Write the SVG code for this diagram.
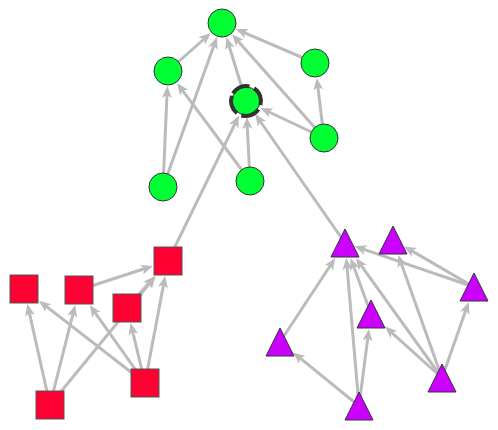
<svg xmlns="http://www.w3.org/2000/svg" width="498" height="430" viewBox="0 0 498 430">
<style>
.e{stroke:#bbbbbb;stroke-width:3;fill:none;marker-end:url(#ah)}
.g{fill:#00ff33;stroke:#333333;stroke-width:1}
.r{fill:#ff0033;stroke:#555555;stroke-width:1}
.p{fill:#cc00ff;stroke:#333333;stroke-width:1}
</style>
<defs>
<marker id="ah" markerUnits="userSpaceOnUse" markerWidth="14" markerHeight="12" refX="6" refY="5" orient="auto" viewBox="0 0 14 12">
<path d="M0,0 L12,5 L0,10 L3,5 Z" fill="#bbbbbb"/>
</marker>
</defs>
<rect width="498" height="430" fill="#ffffff"/>
<g id="connectors">
<line class="e" x1="168" y1="71" x2="206.3" y2="37"/>
<line class="e" x1="163" y1="187" x2="214.9" y2="42.7"/>
<line class="e" x1="163" y1="187" x2="167.1" y2="92"/>
<line class="e" x1="250" y1="181" x2="180.6" y2="87.8"/>
<line class="e" x1="246" y1="101" x2="228.2" y2="43"/>
<line class="e" x1="324" y1="138" x2="236" y2="38.7"/>
<line class="e" x1="315" y1="63" x2="241.3" y2="31.3"/>
<line class="e" x1="324" y1="138" x2="317.5" y2="83.9"/>
<line class="e" x1="324" y1="138" x2="265.9" y2="110.5"/>
<line class="e" x1="250" y1="181" x2="247.1" y2="123"/>
<line class="e" x1="168" y1="261" x2="236.4" y2="120.8"/>
<line class="e" x1="345" y1="243" x2="258.6" y2="119"/>
<line class="e" x1="50" y1="405" x2="28.7" y2="309.9"/>
<line class="e" x1="50" y1="405" x2="73.7" y2="310.8"/>
<line class="e" x1="50" y1="405" x2="151.9" y2="280.6"/>
<line class="e" x1="127" y1="308" x2="151" y2="280.5"/>
<line class="e" x1="79" y1="290" x2="147.3" y2="267.8"/>
<line class="e" x1="145" y1="383" x2="43.7" y2="304.4"/>
<line class="e" x1="145" y1="383" x2="93.1" y2="309.9"/>
<line class="e" x1="145" y1="383" x2="132" y2="328.8"/>
<line class="e" x1="145" y1="383" x2="164.1" y2="281.9"/>
<line class="e" x1="474" y1="287" x2="360.2" y2="248.1"/>
<line class="e" x1="474" y1="287" x2="409.2" y2="249.4"/>
<line class="e" x1="280" y1="342" x2="332" y2="263"/>
<line class="e" x1="359" y1="406" x2="297.7" y2="356.2"/>
<line class="e" x1="359" y1="406" x2="346.8" y2="264"/>
<line class="e" x1="359" y1="406" x2="368.2" y2="334.9"/>
<line class="e" x1="371" y1="314" x2="352.6" y2="263.6"/>
<line class="e" x1="442" y1="378" x2="359.3" y2="262.9"/>
<line class="e" x1="442" y1="378" x2="389.5" y2="330.6"/>
<line class="e" x1="442" y1="378" x2="400.3" y2="260.7"/>
<line class="e" x1="442" y1="378" x2="466.7" y2="307.7"/>
</g>
<g id="nA"><circle class="g" cx="222" cy="23" r="14"/></g>
<g id="nB"><circle class="g" cx="168" cy="71" r="14"/></g>
<g id="nC"><circle class="g" cx="315" cy="63" r="14"/></g>
<g id="nD"><circle class="g" cx="246" cy="101" r="14" stroke="none"/><circle cx="246" cy="101" r="15" fill="none" stroke="#333333" stroke-width="4" stroke-dasharray="19 5" transform="rotate(-150 246 101)"/></g>
<g id="nE"><circle class="g" cx="324" cy="138" r="14"/></g>
<g id="nF"><circle class="g" cx="163" cy="187" r="14"/></g>
<g id="nG"><circle class="g" cx="250" cy="181" r="14"/></g>
<g id="r1"><rect class="r" x="10" y="275" width="28" height="28"/></g>
<g id="r2"><rect class="r" x="65" y="276" width="28" height="28"/></g>
<g id="r3"><rect class="r" x="113" y="294" width="28" height="28"/></g>
<g id="r4"><rect class="r" x="154" y="247" width="28" height="28"/></g>
<g id="r5"><rect class="r" x="131" y="369" width="28" height="28"/></g>
<g id="r6"><rect class="r" x="36" y="391" width="28" height="28"/></g>
<g id="p1"><polygon class="p" points="345,229 359,257 331,257"/></g>
<g id="p2"><polygon class="p" points="393,226 407,254 379,254"/></g>
<g id="p3"><polygon class="p" points="474,273 488,301 460,301"/></g>
<g id="p4"><polygon class="p" points="371,300 385,328 357,328"/></g>
<g id="p5"><polygon class="p" points="280,328 294,356 266,356"/></g>
<g id="p6"><polygon class="p" points="442,364 456,392 428,392"/></g>
<g id="p7"><polygon class="p" points="359,392 373,420 345,420"/></g>
</svg>
